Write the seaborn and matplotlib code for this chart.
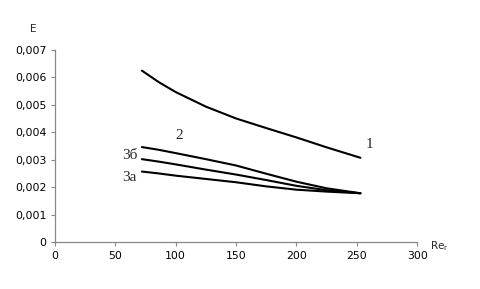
import matplotlib
matplotlib.use("Agg")
import matplotlib.pyplot as plt
import seaborn as sns
import pandas as pd
from matplotlib.ticker import FuncFormatter, MultipleLocator

re_values = [72, 86, 100, 125, 150, 175, 200, 225, 253]
curve_1 = [0.00625, 0.00583, 0.00547, 0.00494, 0.00451, 0.00416, 0.00382, 0.00346, 0.00308]
curve_2 = [0.00347, 0.00337, 0.00325, 0.00303, 0.00280, 0.00250, 0.00221, 0.00197, 0.00179]
curve_3b = [0.00303, 0.00294, 0.00284, 0.00265, 0.00247, 0.00227, 0.00206, 0.00190, 0.00179]
curve_3a = [0.00258, 0.00251, 0.00243, 0.00231, 0.00219, 0.00204, 0.00192, 0.00185, 0.00179]
series_names = ["1", "2", "3б", "3a"]
label_pos = {"1": (257, 0.00358), "2": (100, 0.00388), "3б": (56, 0.00316), "3a": (56, 0.00238)}

rows = []
for name, vals in zip(series_names, [curve_1, curve_2, curve_3b, curve_3a]):
    for x, y in zip(re_values, vals):
        rows.append({"Re": x, "E": y, "curve": name})
df = pd.DataFrame(rows)

sns.set_style("white")
plt.rcParams['font.family'] = ['DejaVu Sans']

fig = plt.figure(figsize=(4.81, 2.89), dpi=100)
ax = fig.add_axes([0.1143, 0.161, 0.753, 0.666])
sns.lineplot(data=df, x="Re", y="E", hue="curve", palette=["black"] * 4,
             legend=False, ax=ax, linewidth=1.5)

ax.set_xlim(0, 300)
ax.set_ylim(0, 0.007)
ax.xaxis.set_major_locator(MultipleLocator(50))
ax.yaxis.set_major_locator(MultipleLocator(0.001))
ax.yaxis.set_major_formatter(FuncFormatter(lambda v, p: "0" if abs(v) < 1e-12 else f"{v:.3f}".replace(".", ",")))
ax.tick_params(axis="both", labelsize=7.8, colors="#888888", labelcolor="black",
               direction="out", length=3, width=0.8, bottom=True, left=True, pad=3)
for s in ["top", "right"]:
    ax.spines[s].set_visible(False)
for s in ["left", "bottom"]:
    ax.spines[s].set_color("#888888")
    ax.spines[s].set_linewidth(0.9)
ax.set_xlabel("")
ax.set_ylabel("")

for name, (x, y) in label_pos.items():
    ax.text(x, y, name, fontsize=11, family="Liberation Serif", ha="left", va="center")

fig.text(33 / 481, 1 - 29 / 289, "E", fontsize=7.5, ha="center", va="center")
fig.text(430 / 481, 1 - 246 / 289, "Re$_\\mathregular{r}$", fontsize=7.5, ha="left", va="center")

fig.savefig("out.png", dpi=100)
